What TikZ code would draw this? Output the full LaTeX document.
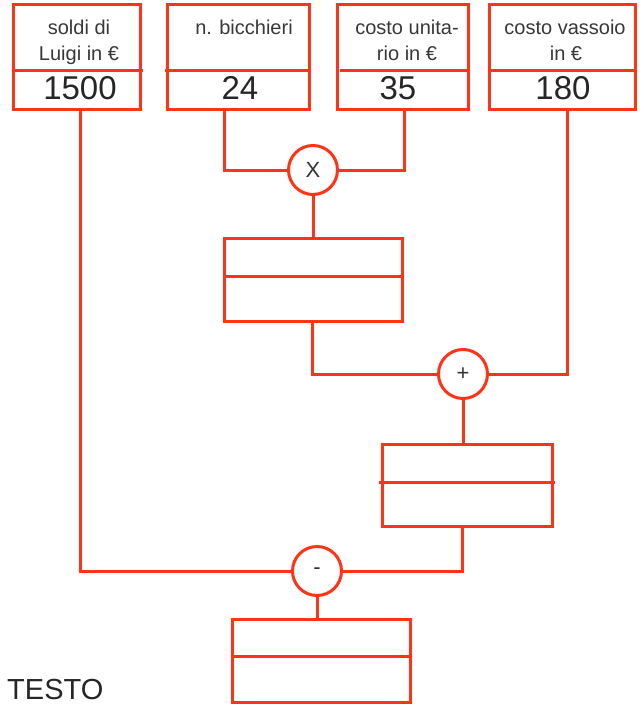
\documentclass[tikz,border=0pt]{standalone}
\usepackage{fontspec}
\setmainfont{Liberation Sans}
\definecolor{lred}{HTML}{FF3316}
\begin{document}
\begin{tikzpicture}[x=1pt,y=-1pt,
  box/.style={draw=lred,line width=3pt,minimum width=#1,inner sep=0pt},
  op/.style={draw=lred,line width=3pt,circle,minimum size=49pt,inner sep=0pt,font=\fontsize{22}{24}\selectfont,text=black!80},
  lbl/.style={anchor=base,inner sep=0pt,font=\fontsize{20}{22}\selectfont,text=black!78},
  num/.style={anchor=base,inner sep=0pt,font=\fontsize{33}{36}\selectfont,text=black!85},
  wire/.style={draw=lred,line width=3pt},
  div/.style={draw=lred,line width=3pt}]
\useasboundingbox (0,0) rectangle (643,704);
% top boxes
\node[box=127pt,minimum height=105pt] (b1) at (76.5,56.5) {};
\node[box=142pt,minimum height=105pt] (b2) at (238,56.5) {};
\node[box=131pt,minimum height=105pt] (b3) at (402.5,56.5) {};
\node[box=146pt,minimum height=105pt] (b4) at (562,56.5) {};
\draw[div] (13,70) -- (143,70);
\draw[div] (165,70) -- (309,70);
\draw[div] (340,70) -- (470,70);
\draw[div] (489,70) -- (635,70);
% labels
\node[lbl] (t1a) at (79,34) {soldi di};
\node[lbl] (t1b) at (79,60) {Luigi in €};
\node[lbl] (t2a) at (244,34) {n. bicchieri};
\node[lbl] (t3a) at (407,34) {costo unita-};
\node[lbl] (t3b) at (407,60) {rio in €};
\node[lbl] (t4a) at (565,34) {costo vassoio};
\node[lbl] (t4b) at (566,60) {in €};
\node[num] (n1) at (80,99) {1500};
\node[num] (n2) at (240,99) {24};
\node[num] (n3) at (398,99) {35};
\node[num] (n4) at (563,99) {180};
% operators
\node[op] (mul) at (313,170) {X};
\node[op] (plus) at (463,374) {+};
\node[op] (minus) at (317,571) {-};
% result boxes
\node[box=178pt,minimum height=83pt] (ra) at (313,279.5) {};
\draw[div] (ra.west |- 0,276) -- (ra.east |- 0,276);
\node[box=170pt,minimum height=82pt] (rb) at (467,485) {};
\draw[div] (379,482) -- (555,482);
\node[box=178pt,minimum height=83pt] (rc) at (321,660.5) {};
\draw[div] (rc.west |- 0,656) -- (rc.east |- 0,656);
% connectors
\draw[wire] ([xshift=-14pt]b2.south) |- (mul.west);
\draw[wire] ([xshift=1.5pt]b3.south) |- (mul.east);
\draw[wire] (mul.south) -- (mul.south |- ra.north);
\draw[wire] ([xshift=-1pt]ra.south) |- (plus.west);
\draw[wire] ([xshift=5pt]b4.south) |- (plus.east);
\draw[wire] (plus.south) -- (plus.south |- rb.north);
\draw[wire] ([xshift=-5pt]rb.south) |- (minus.east);
\draw[wire] ([xshift=3.5pt]b1.south) |- (minus.west);
\draw[wire] (minus.south) -- (minus.south |- rc.north);
% text
\node[anchor=base west,inner sep=0pt,font=\fontsize{29}{32}\selectfont,text=black!85] (testo) at (7,699) {TESTO};
\end{tikzpicture}
\end{document}
